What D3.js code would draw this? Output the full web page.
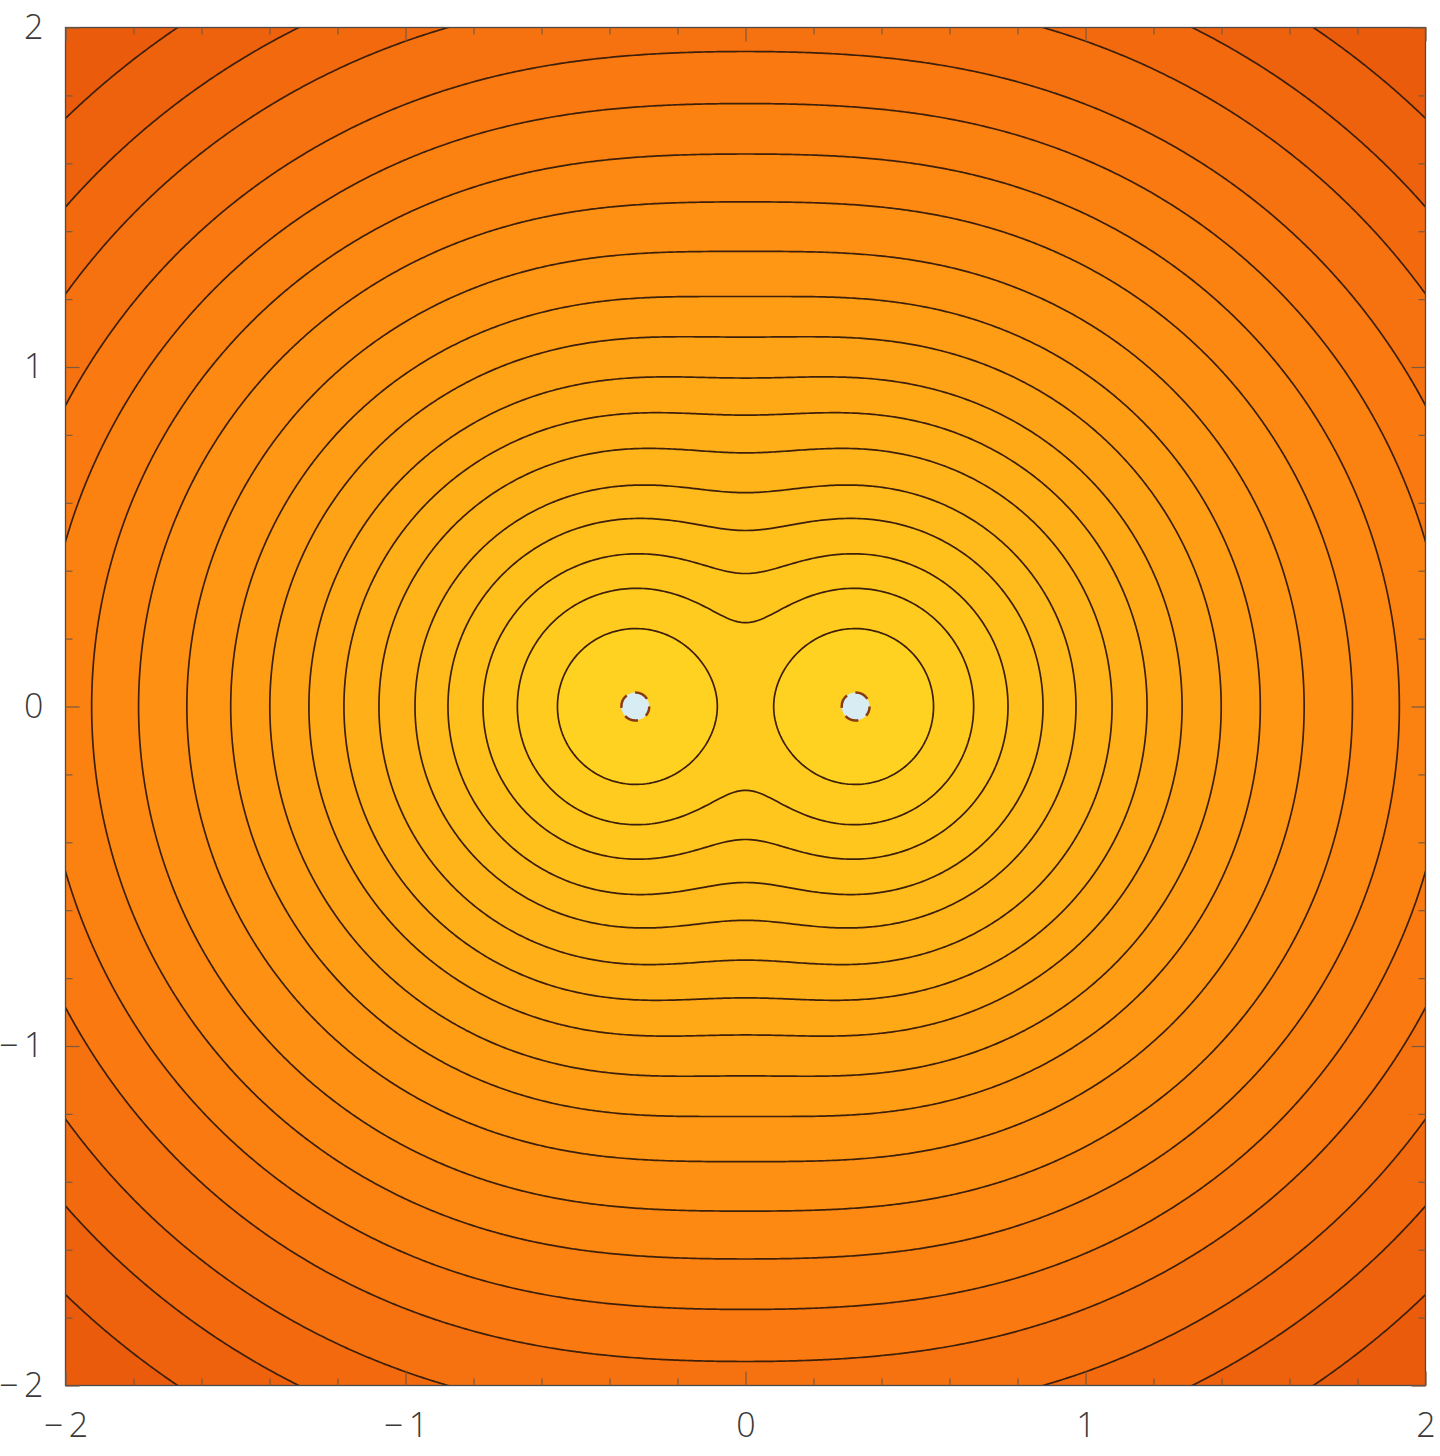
<!DOCTYPE html>
<html>
<head>
<meta charset="utf-8">
<script src="https://cdn.jsdelivr.net/npm/d3@7"></script>
<style>
  html, body { margin: 0; padding: 0; background: #ffffff; }
  svg { display: block; }
  .tick text { font-family: "Open Sans", "DejaVu Sans", sans-serif; font-weight: 300; fill: #3a3a3a; }
</style>
</head>
<body>
<svg id="chart" width="1440" height="1456"></svg>
<script>
// ---- data ----
const charges = [ { x: -0.324, y: 0 }, { x: 0.324, y: 0 } ];      // the two sources
const smoothing = 0.087;                                            // blend width between the two sources
const contourLevels = [0.229, 0.347, 0.448, 0.551, 0.648, 0.754, 0.857, 0.960, 1.075,
                       1.190, 1.319, 1.461, 1.599, 1.745, 1.896, 2.070, 2.230, 2.410];
const colorStopsAt = [0.0, 0.3, 0.6, 0.9, 1.2, 1.5, 1.8, 2.1, 2.4, 2.7];
const colorStops   = ["#ffd521", "#ffcb1e", "#ffbb1b", "#ffa917", "#ff9a14", "#fd8b12",
                      "#fa7a10", "#f36b0e", "#ec5e0c", "#e7550b"];
const majorTicks = [-2, -1, 0, 1, 2];
const minorTicks = d3.range(-20, 21, 2).map(v => v / 10).filter(v => !majorTicks.includes(v));
const coreRadius = 0.041;

// ---- layout ----
const svg = d3.select("#chart");
const x = d3.scaleLinear().domain([-2, 2]).range([65.5, 1425.5]);
const y = d3.scaleLinear().domain([-2, 2]).range([1385.5, 27.5]);

const color = d3.scaleLinear().domain(colorStopsAt).range(colorStops).interpolate(d3.interpolateRgb).clamp(true);

// field: smooth minimum of the distances to the sources
function field(px, py) {
  let s = 0;
  for (const c of charges) {
    const r = Math.hypot(px - c.x, py - c.y);
    s += Math.exp(-r / smoothing);
  }
  return -smoothing * Math.log(s);
}

// sample grid (a little wider than the plot so borders are clean)
const gmin = -2.12, gmax = 2.12, n = 500;
const step = (gmax - gmin) / n;
const values = new Float64Array(n * n);
for (let j = 0; j < n; j++) {
  const py = gmax - (j + 0.5) * step;
  for (let i = 0; i < n; i++) {
    const px = gmin + (i + 0.5) * step;
    values[j * n + i] = field(px, py);
  }
}

const contours = d3.contours().size([n, n]).thresholds(contourLevels)(values);
const proj = d3.geoTransform({
  point(gx, gy) { this.stream.point(x(gmin + gx * step), y(gmax - gy * step)); }
});
const path = d3.geoPath(proj);

svg.append("defs").append("clipPath").attr("id", "plotclip")
  .append("rect").attr("x", x(-2)).attr("y", y(2))
  .attr("width", x(2) - x(-2)).attr("height", y(-2) - y(2));

const plot = svg.append("g").attr("clip-path", "url(#plotclip)");

const bandColor = k => {
  const lo = k === 0 ? 0 : contourLevels[k - 1];
  const hi = k < contourLevels.length ? contourLevels[k] : contourLevels[contourLevels.length - 1] + 0.2;
  return color((lo + hi) / 2);
};
// innermost band
plot.append("rect").attr("x", x(-2.1)).attr("y", y(2.1))
  .attr("width", x(2.1) - x(-2.1)).attr("height", y(-2.1) - y(2.1))
  .attr("fill", bandColor(0));

// outer bands with their contour lines
plot.selectAll("path.band").data(contours).join("path")
  .attr("class", "band")
  .attr("d", path)
  .attr("fill", (d, k) => bandColor(k + 1))
  .attr("stroke", "#3d1f0a")
  .attr("stroke-width", 1.7)
  .attr("stroke-linejoin", "round");

// sources (clipped core)
plot.selectAll("circle.core").data(charges).join("circle")
  .attr("class", "core")
  .attr("cx", d => x(d.x)).attr("cy", d => y(d.y))
  .attr("r", x(coreRadius) - x(0))
  .attr("fill", "#d7ecf3")
  .attr("stroke", "#8a3a10")
  .attr("stroke-width", 2.5)
  .attr("stroke-dasharray", "14 9")
  .attr("stroke-dashoffset", 4);

// frame
svg.append("rect").attr("x", x(-2)).attr("y", y(2))
  .attr("width", x(2) - x(-2)).attr("height", y(-2) - y(2))
  .attr("fill", "none").attr("stroke", "#4a4a4a").attr("stroke-width", 1.3);

const fmt = d => d < 0 ? "\u2212\u2009" + Math.abs(d) : String(d);
const tickColor = "#7a5a40";

function styleAxis(g) {
  g.select(".domain").remove();
  g.selectAll(".tick line").attr("stroke", tickColor).attr("stroke-width", 1.2);
  g.selectAll(".tick text").attr("font-size", 34);
}

// bottom axis
svg.append("g").attr("transform", `translate(0,${y(-2)})`)
  .call(d3.axisBottom(x).tickValues(majorTicks).tickFormat(fmt).tickSizeInner(-14).tickSizeOuter(0).tickPadding(27))
  .call(styleAxis);
svg.append("g").attr("transform", `translate(0,${y(-2)})`)
  .call(d3.axisBottom(x).tickValues(minorTicks).tickFormat("").tickSizeInner(-7).tickSizeOuter(0))
  .call(styleAxis);
// top ticks
svg.append("g").attr("transform", `translate(0,${y(2)})`)
  .call(d3.axisTop(x).tickValues(majorTicks).tickFormat("").tickSizeInner(-14).tickSizeOuter(0))
  .call(styleAxis);
svg.append("g").attr("transform", `translate(0,${y(2)})`)
  .call(d3.axisTop(x).tickValues(minorTicks).tickFormat("").tickSizeInner(-7).tickSizeOuter(0))
  .call(styleAxis);
// left axis
svg.append("g").attr("transform", `translate(${x(-2)},0)`)
  .call(d3.axisLeft(y).tickValues(majorTicks).tickFormat(fmt).tickSizeInner(-14).tickSizeOuter(0).tickPadding(22))
  .call(styleAxis);
svg.append("g").attr("transform", `translate(${x(-2)},0)`)
  .call(d3.axisLeft(y).tickValues(minorTicks).tickFormat("").tickSizeInner(-7).tickSizeOuter(0))
  .call(styleAxis);
// right ticks
svg.append("g").attr("transform", `translate(${x(2)},0)`)
  .call(d3.axisRight(y).tickValues(majorTicks).tickFormat("").tickSizeInner(-14).tickSizeOuter(0))
  .call(styleAxis);
svg.append("g").attr("transform", `translate(${x(2)},0)`)
  .call(d3.axisRight(y).tickValues(minorTicks).tickFormat("").tickSizeInner(-7).tickSizeOuter(0))
  .call(styleAxis);
</script>
</body>
</html>
